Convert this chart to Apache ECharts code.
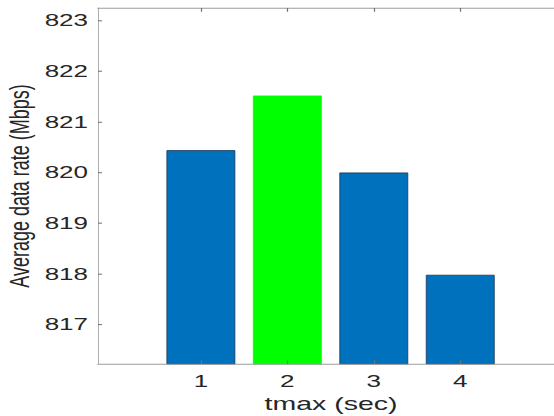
<!DOCTYPE html>
<html>
<head>
<meta charset="utf-8">
<script src="https://cdn.jsdelivr.net/npm/echarts@6/dist/echarts.min.js"></script>
<style>
  html, body { margin: 0; padding: 0; overflow: hidden; background: #fff; width: 554px; height: 416px; }
  /* The figure is laid out tall and then squeezed vertically, giving the wide lettering of the exported plot */
  #chart { width: 554px; height: 660px; transform: scaleY(0.630303); transform-origin: 0 0; }
</style>
</head>
<body>
<div id="chart"></div>
<script>
// tmax settings and the measured average data rate for each
const categories = [1, 2, 3, 4];
const rates = [820.44, 821.52, 820.0, 817.98];
const barColors = ['#0072BD', '#00FF00', '#0072BD', '#0072BD'];
const barEdges = ['#1b3554', '#00FF00', '#1b3554', '#1b3554'];
const yTicks = [817, 818, 819, 820, 821, 822, 823];
const xTicks = [1, 2, 3, 4];

const axisGray = '#9c9c9c';
const textDark = '#262626';
const font = 'Liberation Sans';

const chart = echarts.init(document.getElementById('chart'), null, { renderer: 'svg' });

chart.setOption({
  backgroundColor: '#ffffff',
  animation: false,
  grid: { left: 98, right: -10, top: 12.7, bottom: 82.5, containLabel: false, outerBoundsMode: 'none' },
  xAxis: [
    {
      type: 'value',
      position: 'bottom',
      min: -0.19,
      max: 5.2,
      z: 5,
      name: 'tmax (sec)',
      nameLocation: 'middle',
      nameGap: 48,
      nameTextStyle: { fontFamily: font, fontSize: 28.5, color: textDark },
      axisLine: { show: true, onZero: false, lineStyle: { color: axisGray, width: 1.6 } },
      axisTick: { show: true, inside: true, length: 6, customValues: xTicks, lineStyle: { color: '#707070', width: 1.2 } },
      axisLabel: { show: true, customValues: xTicks, margin: 14, fontFamily: font, fontSize: 26, color: textDark },
      splitLine: { show: false }
    },
    {
      type: 'value',
      position: 'top',
      min: -0.19,
      max: 5.2,
      z: 5,
      axisLine: { show: true, onZero: false, lineStyle: { color: axisGray, width: 1.6 } },
      axisTick: { show: true, inside: true, length: 6, customValues: xTicks, lineStyle: { color: '#707070', width: 1.2 } },
      axisLabel: { show: false },
      splitLine: { show: false }
    }
  ],
  yAxis: {
    type: 'value',
    position: 'left',
    min: 816.22,
    max: 823.25,
    z: 5,
    name: 'Average data rate (Mbps)',
    nameLocation: 'middle',
    nameGap: 53,
    nameTextStyle: { fontFamily: font, fontSize: 28.5, color: textDark },
    axisLine: { show: true, onZero: false, lineStyle: { color: axisGray, width: 1 } },
    axisTick: { show: true, inside: true, length: 4, customValues: yTicks, lineStyle: { color: '#707070', width: 1.6 } },
    axisLabel: { show: true, customValues: yTicks, margin: 10, fontFamily: font, fontSize: 26, color: textDark },
    splitLine: { show: false }
  },
  series: [
    {
      type: 'bar',
      xAxisIndex: 0,
      barWidth: 69,
      data: categories.map((c, i) => ({
        value: [c, rates[i]],
        itemStyle: { color: barColors[i], borderColor: barEdges[i], borderWidth: 1 }
      }))
    }
  ]
});
</script>
</body>
</html>
